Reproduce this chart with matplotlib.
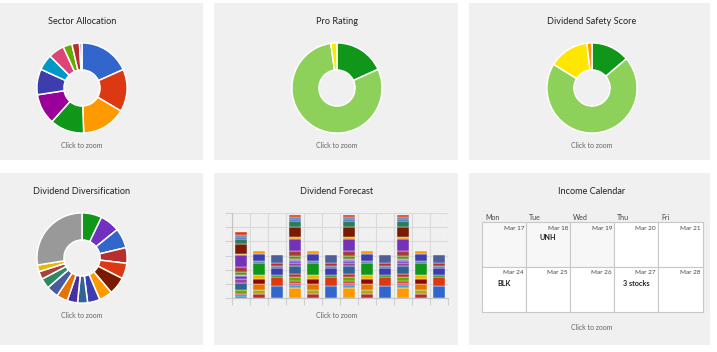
import matplotlib
matplotlib.use("Agg")
import matplotlib.pyplot as plt
from matplotlib.patches import Rectangle

W, H = 717, 352
plt.rcParams['font.family'] = ['Lato', 'DejaVu Sans']

# ---- donut data (percent, clockwise from 12 o'clock) ----
sector_share = [18.3, 15.2, 15.9, 12.2, 11.0, 9.2, 5.7, 5.7, 3.2, 2.7, 0.9]
sector_colors = ['#3366cc', '#dc3912', '#ff9900', '#109618', '#990099', '#3b3eac',
                 '#0099c6', '#dd4477', '#66aa00', '#b82e2e', '#7f9fd8']

pro_rating = [18.2, 79.6, 2.2]
pro_colors = ['#109618', '#8dd15b', '#ffe600']

safety_score = [13.8, 70.0, 14.4, 1.8]
safety_colors = ['#109618', '#8dd15b', '#ffe600', '#ff9900']

diversification = [7.1, 7.1, 7.1, 5.6, 5.6, 6.3, 4.8, 4.4, 3.6, 3.7, 4.0, 4.3, 3.7, 2.8, 2.4, 27.5]
diversification_colors = ['#109618', '#7030c0', '#3366cc', '#b82e2e', '#dc3912', '#7a1a00',
                          '#ff9900', '#3b3eac', '#316395', '#4a2fa0', '#e67300', '#4a5a9c',
                          '#2e8a62', '#a8423a', '#e6b800', '#999999']

# ---- dividend forecast: stacked segments, bottom to top ----
months_kind = ['first', 'b', 'c', 'a', 'b', 'c', 'a', 'b', 'c', 'a', 'b', 'c']

stack_first = [0.14, 0.14, 0.28, 0.47, 0.33, 0.16, 0.12, 0.19, 0.33, 0.85, 0.12, 0.68, 0.38, 0.14, 0.09, 0.24]
stack_first_colors = ['#0099c6', '#dd4477', '#66aa00', '#316395', '#994499', '#6633cc', '#9a7fd8',
                      '#668d1c', '#aa3939', '#7432b8', '#e8a317', '#7a1a00', '#2e7d5a', '#3366cc',
                      '#5574a6', '#dc3912']

stack_a = [0.70, 0.10, 0.14, 0.10, 0.18, 0.24, 0.24, 0.54, 0.24, 0.16, 0.14, 0.16, 0.40, 0.85,
           0.12, 0.68, 0.42, 0.16, 0.12, 0.19]
stack_a_colors = ['#ff9900', '#c2189b', '#0099c6', '#dd4477', '#cc2222', '#66aa00', '#b82e2e',
                  '#316395', '#994499', '#6633cc', '#9a7fd8', '#668d1c', '#aa3939', '#7432b8',
                  '#e8a317', '#7a1a00', '#2e7d5a', '#3366cc', '#5574a6', '#dc3912']

stack_b = [0.28, 0.28, 0.42, 0.35, 0.31, 0.82, 0.12, 0.52, 0.19]
stack_b_colors = ['#b82e2e', '#aaaa11', '#e67300', '#8b0707', '#f0b400', '#109618', '#5574a6',
                  '#3b3eac', '#ff9900']

stack_c = [0.82, 0.68, 0.14, 0.47, 0.12, 0.24, 0.54]
stack_c_colors = ['#3366cc', '#dc3912', '#109618', '#3b3eac', '#5574a6', '#b82e2e', '#4f5f9a']

stacks = {'first': (stack_first, stack_first_colors), 'a': (stack_a, stack_a_colors),
          'b': (stack_b, stack_b_colors), 'c': (stack_c, stack_c_colors)}

# ---- income calendar ----
weekdays = ['Mon', 'Tue', 'Wed', 'Thu', 'Fri']
cal_dates = [['Mar 17', 'Mar 18', 'Mar 19', 'Mar 20', 'Mar 21'],
             ['Mar 24', 'Mar 25', 'Mar 26', 'Mar 27', 'Mar 28']]
cal_events = {'Mar 18': 'UNH', 'Mar 24': 'BLK', 'Mar 27': '3 stocks'}
past_days = ['Mar 17', 'Mar 18', 'Mar 19']

# ---- figure and panels (pixel coordinates, y down) ----
fig = plt.figure(figsize=(W / 100, H / 100), dpi=100, facecolor='white')
bg = fig.add_axes([0, 0, 1, 1])
bg.set_xlim(0, W)
bg.set_ylim(H, 0)
bg.axis('off')

panels = [(0, 3, 203, 160), (214, 3, 458, 160), (469, 3, 710, 160),
          (0, 173, 203, 345), (214, 173, 458, 345), (469, 173, 710, 345)]
for x0, y0, x1, y1 in panels:
    bg.add_patch(Rectangle((x0, y0), x1 - x0, y1 - y0, facecolor='#f0f0f0', edgecolor='none'))

title_kw = dict(ha='center', va='center', fontsize=6.6, color='#222222')
zoom_kw = dict(ha='center', va='center', fontsize=5, color='#666666')
titles = [(82, 22, 'Sector Allocation'), (337, 22, 'Pro Rating'), (592, 22, 'Dividend Safety Score'),
          (82, 192, 'Dividend Diversification'), (337, 192, 'Dividend Forecast'),
          (592, 192, 'Income Calendar')]
for x, y, t in titles:
    bg.text(x, y, t, **title_kw)
for x, y in [(82, 145), (337, 145), (592, 145), (82, 315), (337, 315), (592, 328)]:
    bg.text(x, y, 'Click to zoom', **zoom_kw)


def donut(cx, cy, vals, colors, r=46):
    ax = fig.add_axes([(cx - r) / W, 1 - (cy + r) / H, 2 * r / W, 2 * r / H])
    ax.pie(vals, colors=colors, startangle=90, counterclock=False,
           wedgeprops=dict(width=0.6, edgecolor='white', linewidth=1.1))
    ax.set_xlim(-1.02, 1.02)
    ax.set_ylim(-1.02, 1.02)
    return ax


donut(82, 88, sector_share, sector_colors)
donut(337, 88, pro_rating, pro_colors)
donut(592, 88, safety_score, safety_colors)
donut(82, 258, diversification, diversification_colors)

# ---- dividend forecast bars ----
ax = fig.add_axes([232 / W, 1 - 298 / H, 216 / W, 85 / H])
ax.set_facecolor('none')
for i, kind in enumerate(months_kind):
    vals, cols = stacks[kind]
    bottom = 0
    for v, c in zip(vals, cols):
        ax.bar(i, v, bottom=bottom, width=0.72, color=c, edgecolor='#f4f4f4', linewidth=0.3)
        bottom += v
ax.set_xlim(-0.5, 11.5)
ax.set_ylim(0, 6)
ax.set_yticks(range(7))
ax.set_xticks([i - 0.5 for i in range(13)])
ax.set_xticklabels([])
ax.set_yticklabels([])
ax.grid(True, color='#dadada', linewidth=0.8)
ax.set_axisbelow(True)
for s in ['top', 'right']:
    ax.spines[s].set_visible(False)
for s in ['left', 'bottom']:
    ax.spines[s].set_color('#c4c4c4')
ax.tick_params(length=5, color='#d0d0d0')

# ---- income calendar ----
col_edges = [482, 526, 570, 614, 658, 703]
row_edges = [222, 267, 312]
for j, d in enumerate(weekdays):
    bg.text(col_edges[j] + 3, 218, d, ha='left', va='center', fontsize=5, color='#444444')
for r, week in enumerate(cal_dates):
    for j, date in enumerate(week):
        x0, x1 = col_edges[j], col_edges[j + 1]
        y0, y1 = row_edges[r], row_edges[r + 1]
        fc = '#f7f7f7' if date in past_days else 'white'
        bg.add_patch(Rectangle((x0, y0), x1 - x0, y1 - y0, facecolor=fc,
                               edgecolor='#c8c8c8', linewidth=0.8))
        bg.text(x1 - 2, y0 + 6, date, ha='right', va='center', fontsize=4.6, color='#444444')
        if date in cal_events:
            bg.text((x0 + x1) / 2, y0 + 16, cal_events[date], ha='center', va='center',
                    fontsize=5.2, fontweight='bold', color='#222222')

fig.savefig('out.png', dpi=100, facecolor='white')
